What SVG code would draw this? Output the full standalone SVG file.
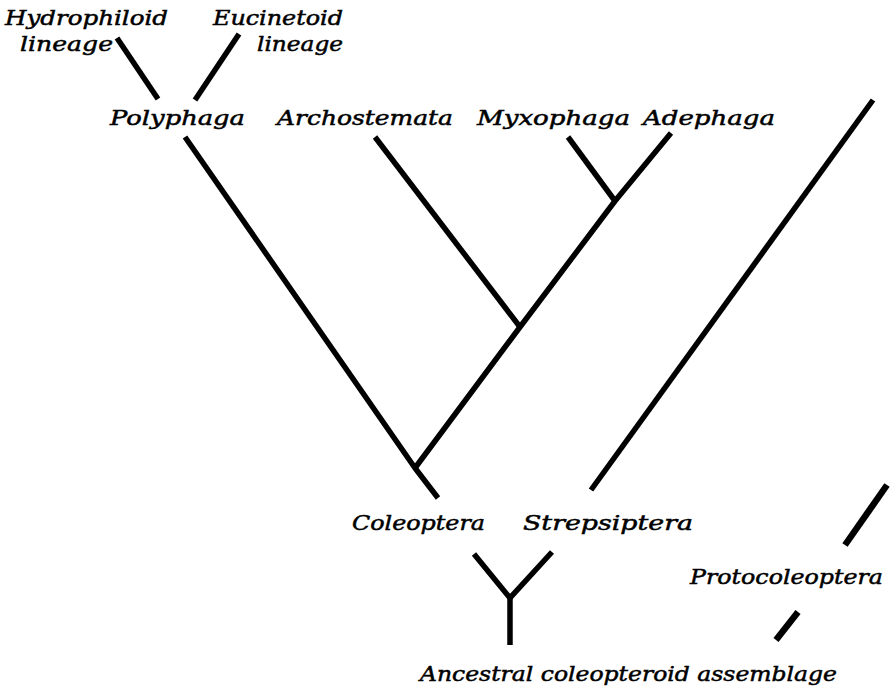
<svg xmlns="http://www.w3.org/2000/svg" width="892" height="694" viewBox="0 0 892 694">
<style>
.l{font-family:"DejaVu Serif","Liberation Serif",serif;font-style:italic;font-size:20.5px;fill:#000;stroke:#000;stroke-width:0.5}
.e{stroke:#000;stroke-width:5.5;fill:none;stroke-linecap:butt;stroke-linejoin:round}
.p{stroke:#000;stroke-width:6.5;fill:none;stroke-linecap:butt}
</style>
<rect width="892" height="694" fill="#fff"/>
<g id="connectors">
<line class="e" x1="117" y1="38" x2="158" y2="99"/>
<line class="e" x1="239" y1="34" x2="195" y2="100"/>
<polyline class="e" points="185,137 415,468 438,498"/>
<polyline class="e" points="671,133 615,201 520,327 415,468"/>
<line class="e" x1="568" y1="137" x2="615" y2="201"/>
<line class="e" x1="375" y1="137" x2="520" y2="327"/>
<line class="e" x1="873" y1="100" x2="591" y2="490"/>
<line class="p" x1="887" y1="485" x2="845" y2="545"/>
<line class="p" x1="798" y1="612" x2="776" y2="640"/>
<polyline class="e" points="474,554 510,598 552,552"/>
<line class="e" x1="510" y1="597" x2="510" y2="645"/>
</g>
<g id="hydrophiloid"><text class="l" x="5" y="25" textLength="163" lengthAdjust="spacingAndGlyphs">Hydrophiloid</text><text class="l" x="20" y="51" textLength="93" lengthAdjust="spacingAndGlyphs">lineage</text></g>
<g id="eucinetoid"><text class="l" x="213" y="25" textLength="130" lengthAdjust="spacingAndGlyphs">Eucinetoid</text><text class="l" x="257" y="51" textLength="86" lengthAdjust="spacingAndGlyphs">lineage</text></g>
<g id="polyphaga"><text class="l" x="110" y="125" textLength="135" lengthAdjust="spacingAndGlyphs">Polyphaga</text></g>
<g id="archostemata"><text class="l" x="277" y="125" textLength="176" lengthAdjust="spacingAndGlyphs">Archostemata</text></g>
<g id="myxophaga"><text class="l" x="477" y="125" textLength="153" lengthAdjust="spacingAndGlyphs">Myxophaga</text></g>
<g id="adephaga"><text class="l" x="643" y="125" textLength="132" lengthAdjust="spacingAndGlyphs">Adephaga</text></g>
<g id="coleoptera"><text class="l" x="352" y="530" textLength="133" lengthAdjust="spacingAndGlyphs">Coleoptera</text></g>
<g id="strepsiptera"><text class="l" x="523" y="530" textLength="170" lengthAdjust="spacingAndGlyphs">Strepsiptera</text></g>
<g id="protocoleoptera"><text class="l" x="690" y="584" textLength="193" lengthAdjust="spacingAndGlyphs">Protocoleoptera</text></g>
<g id="ancestral"><text class="l" x="420" y="681" textLength="417" lengthAdjust="spacingAndGlyphs">Ancestral coleopteroid assemblage</text></g>
</svg>
